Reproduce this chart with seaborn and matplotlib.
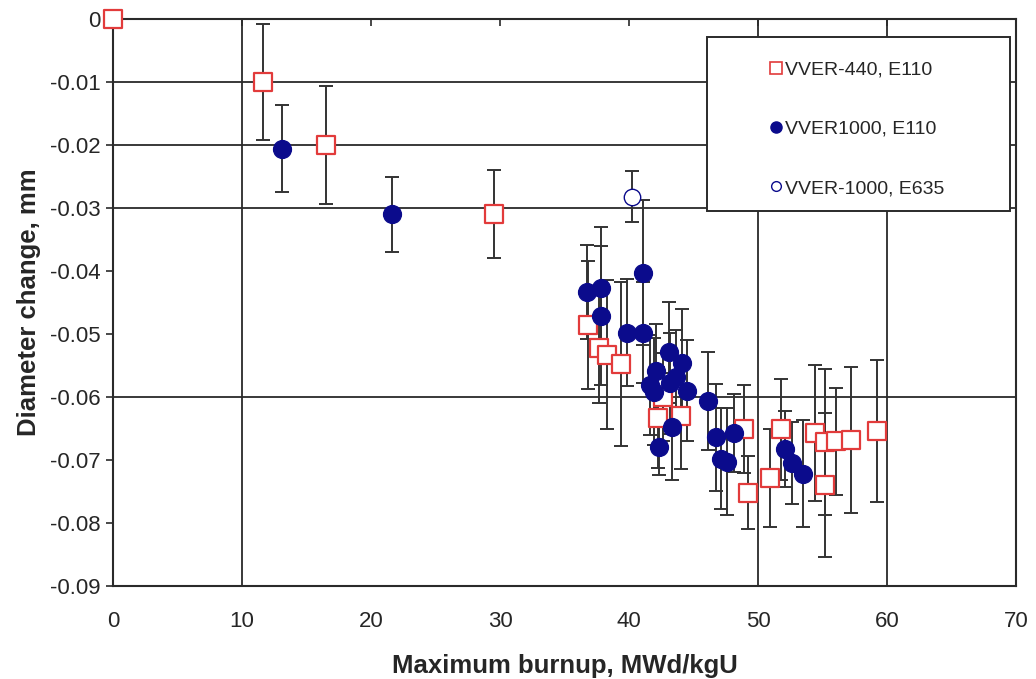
import numpy as np
import pandas as pd
import matplotlib
matplotlib.use("Agg")
import matplotlib.pyplot as plt
from matplotlib.lines import Line2D
from matplotlib.patches import Rectangle
import seaborn as sns

# VVER-440, E110 cladding
burnup_440 = [0.0, 11.6, 16.5, 29.5, 36.8, 37.7, 38.3, 39.4, 42.6, 42.2, 44.0,
              48.9, 49.2, 50.9, 51.8, 54.4, 55.2, 55.2, 56.0, 57.2, 59.2]
dchange_440 = [0.0, -0.0100, -0.0200, -0.0310, -0.0486, -0.0522, -0.0533, -0.0548,
               -0.0600, -0.0633, -0.0630, -0.0651, -0.0752, -0.0729, -0.0651,
               -0.0657, -0.0671, -0.0740, -0.0670, -0.0668, -0.0654]
err_440 = [0.0, 0.0092, 0.0093, 0.0070, 0.0102, 0.0088, 0.0118, 0.0130, 0.0070,
           0.0080, 0.0085, 0.0070, 0.0058, 0.0078, 0.0080, 0.0108, 0.0116,
           0.0114, 0.0085, 0.0116, 0.0112]

# VVER-1000, E110 cladding
burnup_1000 = [13.1, 21.6, 36.7, 37.8, 37.8, 39.8, 41.1, 41.1, 42.1, 41.6, 41.9,
               43.1, 44.1, 43.6, 43.2, 44.5, 46.1, 43.3, 42.3, 46.7, 48.1, 47.1,
               47.6, 52.1, 52.6, 53.5]
dchange_1000 = [-0.0206, -0.0310, -0.0433, -0.0427, -0.0471, -0.0498, -0.0403,
                -0.0498, -0.0559, -0.0581, -0.0592, -0.0529, -0.0546, -0.0568,
                -0.0578, -0.0590, -0.0606, -0.0647, -0.0679, -0.0664, -0.0657,
                -0.0698, -0.0703, -0.0683, -0.0705, -0.0722]
err_1000 = [0.0069, 0.0060, 0.0075, 0.0097, 0.0110, 0.0085, 0.0115, 0.0080,
            0.0075, 0.0080, 0.0085, 0.0080, 0.0085, 0.0075, 0.0080, 0.0080,
            0.0078, 0.0085, 0.0045, 0.0085, 0.0062, 0.0080, 0.0085, 0.0060,
            0.0065, 0.0085]

# VVER-1000, E635 cladding
burnup_e635 = [40.2]
dchange_e635 = [-0.0282]
err_e635 = [0.0040]

series_labels = ["VVER-440, E110", "VVER1000, E110", "VVER-1000, E635"]
x_ticks = [0, 10, 20, 30, 40, 50, 60, 70]
y_ticks = [0, -0.01, -0.02, -0.03, -0.04, -0.05, -0.06, -0.07, -0.08, -0.09]
y_tick_labels = ["0", "-0.01", "-0.02", "-0.03", "-0.04", "-0.05", "-0.06",
                 "-0.07", "-0.08", "-0.09"]
h_grid = [-0.01, -0.02, -0.03, -0.06]
v_grid = [10, 50, 60]

df440 = pd.DataFrame({"x": burnup_440, "y": dchange_440, "e": err_440})
df1000 = pd.DataFrame({"x": burnup_1000, "y": dchange_1000, "e": err_1000})
dfe635 = pd.DataFrame({"x": burnup_e635, "y": dchange_e635, "e": err_e635})

sns.set_theme(style="white")
plt.rcParams["font.family"] = ["Liberation Sans", "DejaVu Sans"]

RED = "#e23b3b"
NAVY = "#0b0b8c"
LINE = "#2a2a2a"

fig = plt.figure(figsize=(10.36, 6.79), dpi=100)
ax = fig.add_axes([0.109, 0.137, 0.872, 0.835])

for v in h_grid:
    ax.axhline(v, color=LINE, lw=1.3, zorder=1)
for v in v_grid:
    ax.axvline(v, color=LINE, lw=1.3, zorder=1)

# error bars first, markers on top
for d in (df440, df1000, dfe635):
    m = d["e"] > 0
    ax.errorbar(d.loc[m, "x"], d.loc[m, "y"], yerr=d.loc[m, "e"], fmt="none",
                ecolor="#333333", elinewidth=1.4, capsize=5, capthick=1.4,
                zorder=2)

sns.scatterplot(data=df440, x="x", y="y", ax=ax, marker="s", s=150,
                facecolor="white", edgecolor=RED, linewidth=1.6, zorder=3,
                legend=False, clip_on=False)
sns.scatterplot(data=df1000, x="x", y="y", ax=ax, marker="o", s=165,
                color=NAVY, edgecolor=NAVY, linewidth=1, zorder=4,
                legend=False)
sns.scatterplot(data=dfe635, x="x", y="y", ax=ax, marker="o", s=140,
                facecolor="white", edgecolor=NAVY, linewidth=1.0, zorder=4,
                legend=False)

ax.set_xlim(0, 70)
ax.set_ylim(-0.09, 0)
ax.set_xticks(x_ticks)
ax.set_xticklabels([str(t) for t in x_ticks], fontsize=16)
ax.set_yticks(y_ticks)
ax.set_yticklabels(y_tick_labels, fontsize=16)
ax.tick_params(axis="y", direction="out", length=5, width=1.2, color=LINE,
               left=True, pad=4)
ax.tick_params(axis="x", direction="in", length=5, width=1.2, color=LINE,
               bottom=False, top=True, labelbottom=True, pad=18)

for s in ax.spines.values():
    s.set_color(LINE)
    s.set_linewidth(1.5)

ax.set_xlabel("Maximum burnup, MWd/kgU", fontsize=18.5, fontweight="bold",
              labelpad=16)
ax.set_ylabel("Diameter change, mm", fontsize=18.5, fontweight="bold",
              labelpad=6)

# legend box
ax.add_patch(Rectangle((0.658, 0.6614), 0.3355, 0.3069, transform=ax.transAxes,
                       facecolor="white", edgecolor=LINE, linewidth=1.4,
                       zorder=9, clip_on=False))
handles = [
    Line2D([], [], ls="none", marker="s", ms=8, mfc="white", mec=RED, mew=1.2),
    Line2D([], [], ls="none", marker="o", ms=8, mfc=NAVY, mec=NAVY),
    Line2D([], [], ls="none", marker="o", ms=7, mfc="white", mec=NAVY, mew=1.0),
]
leg = ax.legend(handles, series_labels, loc="upper left",
                bbox_to_anchor=(0.726, 0.926), fontsize=14,
                frameon=False, labelspacing=2.14,
                handlelength=0.7, handletextpad=0.15, borderaxespad=0,
                borderpad=0)
leg.set_zorder(10)

fig.savefig("out.png", dpi=100)
